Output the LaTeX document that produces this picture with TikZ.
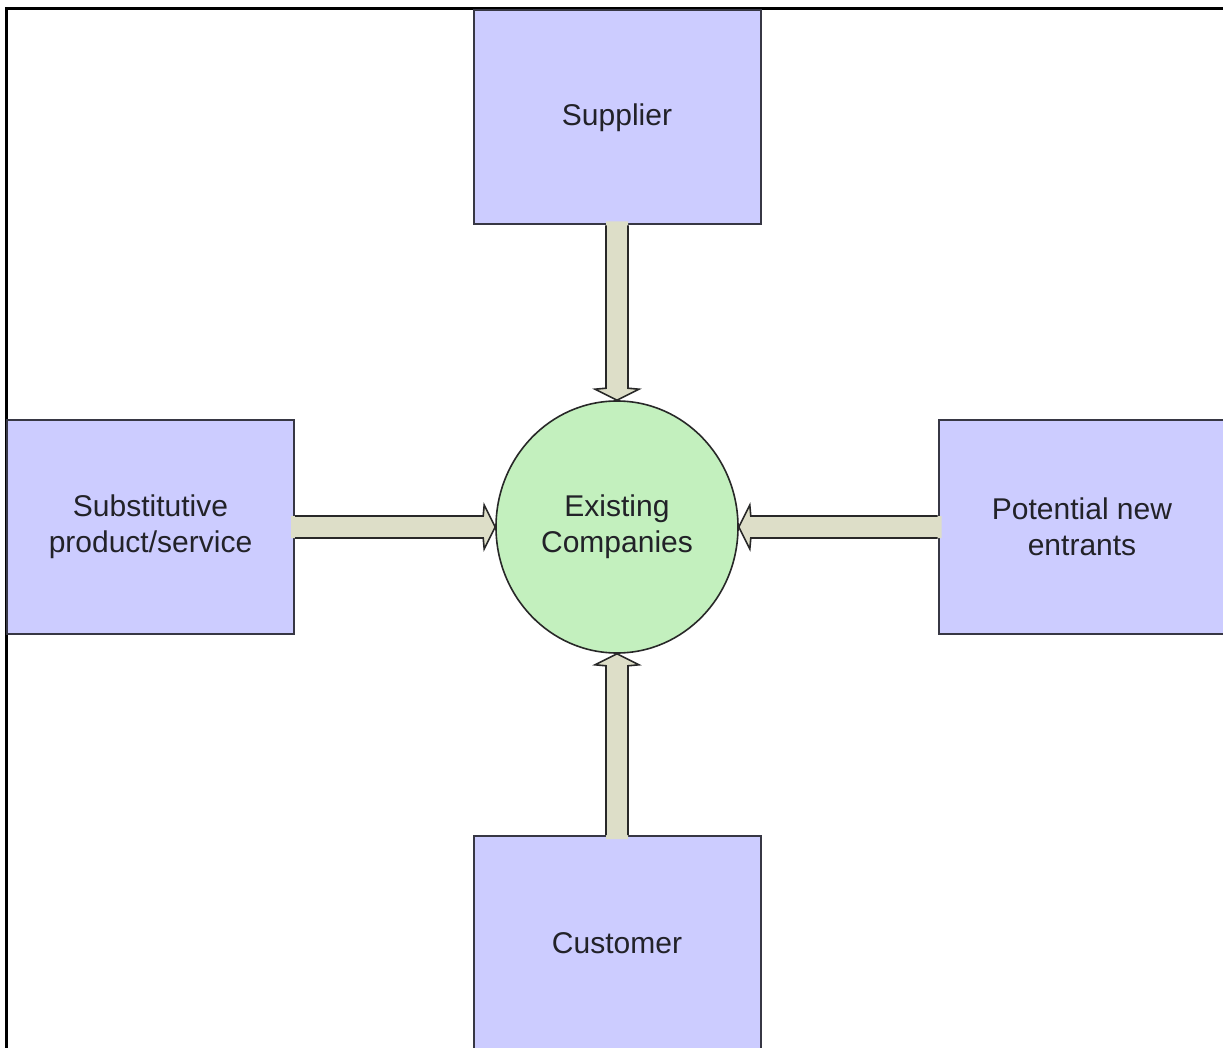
\documentclass[tikz,border=0pt]{standalone}
\usepackage{fontspec}
\setmainfont{Liberation Sans}
\usetikzlibrary{calc,shapes.geometric}

\definecolor{boxfill}{RGB}{204,204,255}
\definecolor{boxline}{RGB}{55,55,68}
\definecolor{hubfill}{RGB}{195,240,190}
\definecolor{arrowfill}{RGB}{221,222,200}
\definecolor{arrowline}{RGB}{40,40,40}
\definecolor{labeltext}{RGB}{34,34,40}

\tikzset{
  force/.style={draw=boxline, line width=2pt, fill=boxfill,
    minimum width=287pt, minimum height=214pt, inner sep=0pt,
    align=center, text=labeltext, font=\fontsize{30}{36}\selectfont},
  hub/.style={ellipse, draw=arrowline, line width=1.6pt, fill=hubfill,
    minimum width=242pt, minimum height=252pt, inner sep=0pt,
    align=center, text=labeltext, font=\fontsize{30}{36}\selectfont},
  shaftfill/.style={fill=arrowfill, draw=none},
  shaftline/.style={draw=arrowline, line width=1.6pt, line join=miter},
}

\begin{document}
\begin{tikzpicture}[x=1pt,y=-1pt]
  \useasboundingbox (0,0) rectangle (1223,1048);
  \clip (0,0) rectangle (1223,1048);
  \fill[white] (0,0) rectangle (1223,1048);

  % outer frame: top and left rules
  \draw[black, line width=2.6pt] (6.2,1048) -- (6.2,8.7) -- (1223,8.7);

  % the five blocks
  \node[force] (sup) at (617,117.5) {Supplier};
  \node[force] (sub) at (150.5,527) {Substitutive\\product/service};
  \node[force] (pot) at (1082,527) {Potential new\\entrants};
  \node[force] (cus) at (617,943) {Customer};
  \node[hub]   (ex)  at (617,527) {Existing\\Companies};

  % Supplier -> Existing Companies
  \fill[shaftfill] ($(sup.south)+(-11,-4)$) -- ($(ex.north)+(-11,-12)$)
    -- ($(ex.north)+(-22,-11)$) -- (ex.north) -- ($(ex.north)+(22,-11)$)
    -- ($(ex.north)+(11,-12)$) -- ($(sup.south)+(11,-4)$) -- cycle;
  \draw[shaftline] ($(sup.south)+(-11,0)$) -- ($(ex.north)+(-11,-12)$)
    -- ($(ex.north)+(-22,-11)$) -- (ex.north) -- ($(ex.north)+(22,-11)$)
    -- ($(ex.north)+(11,-12)$) -- ($(sup.south)+(11,0)$);

  % Customer -> Existing Companies
  \fill[shaftfill] ($(cus.north)+(-11,4)$) -- ($(ex.south)+(-11,12)$)
    -- ($(ex.south)+(-22,11)$) -- (ex.south) -- ($(ex.south)+(22,11)$)
    -- ($(ex.south)+(11,12)$) -- ($(cus.north)+(11,4)$) -- cycle;
  \draw[shaftline] ($(cus.north)+(-11,0)$) -- ($(ex.south)+(-11,12)$)
    -- ($(ex.south)+(-22,11)$) -- (ex.south) -- ($(ex.south)+(22,11)$)
    -- ($(ex.south)+(11,12)$) -- ($(cus.north)+(11,0)$);

  % Substitutive product/service -> Existing Companies
  \fill[shaftfill] ($(sub.east)+(-4,-11)$) -- ($(ex.west)+(-12,-11)$)
    -- ($(ex.west)+(-11,-22)$) -- (ex.west) -- ($(ex.west)+(-11,22)$)
    -- ($(ex.west)+(-12,11)$) -- ($(sub.east)+(-4,11)$) -- cycle;
  \draw[shaftline] ($(sub.east)+(0,-11)$) -- ($(ex.west)+(-12,-11)$)
    -- ($(ex.west)+(-11,-22)$) -- (ex.west) -- ($(ex.west)+(-11,22)$)
    -- ($(ex.west)+(-12,11)$) -- ($(sub.east)+(0,11)$);

  % Potential new entrants -> Existing Companies
  \fill[shaftfill] ($(pot.west)+(4,-11)$) -- ($(ex.east)+(12,-11)$)
    -- ($(ex.east)+(11,-22)$) -- (ex.east) -- ($(ex.east)+(11,22)$)
    -- ($(ex.east)+(12,11)$) -- ($(pot.west)+(4,11)$) -- cycle;
  \draw[shaftline] ($(pot.west)+(0,-11)$) -- ($(ex.east)+(12,-11)$)
    -- ($(ex.east)+(11,-22)$) -- (ex.east) -- ($(ex.east)+(11,22)$)
    -- ($(ex.east)+(12,11)$) -- ($(pot.west)+(0,11)$);
\end{tikzpicture}
\end{document}
